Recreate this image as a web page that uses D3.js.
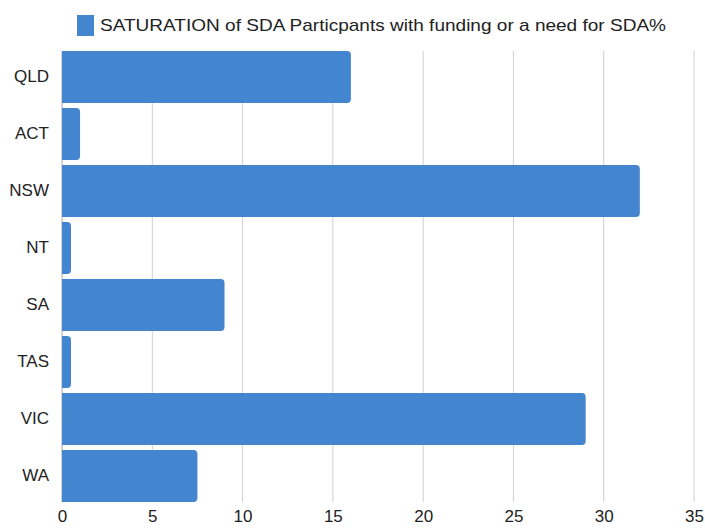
<!DOCTYPE html>
<html>
<head>
<meta charset="utf-8">
<script src="https://cdn.jsdelivr.net/npm/d3@7"></script>
<style>
  body { margin: 0; background: #fff; }
  text { font-family: "Liberation Sans", Arial, sans-serif; fill: #222; }
</style>
</head>
<body>
<div id="chart"></div>
<script>
// datos
const states = ["QLD", "ACT", "NSW", "NT", "SA", "TAS", "VIC", "WA"]
const saturation = [16, 1, 32, 0.5, 9, 0.5, 29, 7.5]
const xTicks = [0, 5, 10, 15, 20, 25, 30, 35]
const seriesName = "SATURATION of SDA Particpants with funding or a need for SDA%"

const width = 705, height = 528
const margin = {top: 51, right: 11, bottom: 26, left: 62}

const svg = d3.select("#chart").append("svg")
  .attr("width", width)
  .attr("height", height)

const x = d3.scaleLinear().domain([0, 35]).range([margin.left, width - margin.right])
const y = d3.scaleBand().domain(states)
  .range([margin.top, height - margin.bottom])
  .paddingInner(5 / 57).paddingOuter(0)

// rejilla vertical
svg.append("g")
  .selectAll("line")
  .data(xTicks)
  .join("line")
  .attr("x1", d => x(d)).attr("x2", d => x(d))
  .attr("y1", margin.top).attr("y2", height - margin.bottom)
  .attr("stroke", d => d === 0 ? "#aaa" : "#cfcfcf")
  .attr("stroke-width", 1)

// barras con esquinas derechas redondeadas
const r = 4
svg.append("g")
  .selectAll("path")
  .data(states.map((s, i) => ({s, v: saturation[i]})))
  .join("path")
  .attr("fill", "#4386cf")
  .attr("d", d => {
    const x0 = x(0), x1 = x(d.v), y0 = y(d.s), h = y.bandwidth()
    const rr = Math.min(r, (x1 - x0) / 2)
    return `M${x0},${y0}H${x1 - rr}Q${x1},${y0} ${x1},${y0 + rr}V${y0 + h - rr}Q${x1},${y0 + h} ${x1 - rr},${y0 + h}H${x0}Z`
  })

// eje x
const xAxis = svg.append("g")
  .attr("transform", `translate(0,${height - margin.bottom})`)
  .call(d3.axisBottom(x).tickValues(xTicks).tickSize(0).tickPadding(8))
xAxis.select(".domain").remove()
xAxis.selectAll("text").style("font-size", "17px").attr("fill", "#222")

// eje y
const yAxis = svg.append("g")
  .attr("transform", `translate(${margin.left},0)`)
  .call(d3.axisLeft(y).tickSize(0).tickPadding(13))
yAxis.select(".domain").remove()
yAxis.selectAll("text").style("font-size", "17px").attr("fill", "#222")

// leyenda
svg.append("rect")
  .attr("x", 77).attr("y", 15).attr("width", 17).attr("height", 21)
  .attr("fill", "#4386cf")
svg.append("text")
  .attr("x", 100).attr("y", 31)
  .style("font-size", "17px")
  .attr("textLength", 566)
  .attr("lengthAdjust", "spacingAndGlyphs")
  .text(seriesName)
</script>
</body>
</html>
